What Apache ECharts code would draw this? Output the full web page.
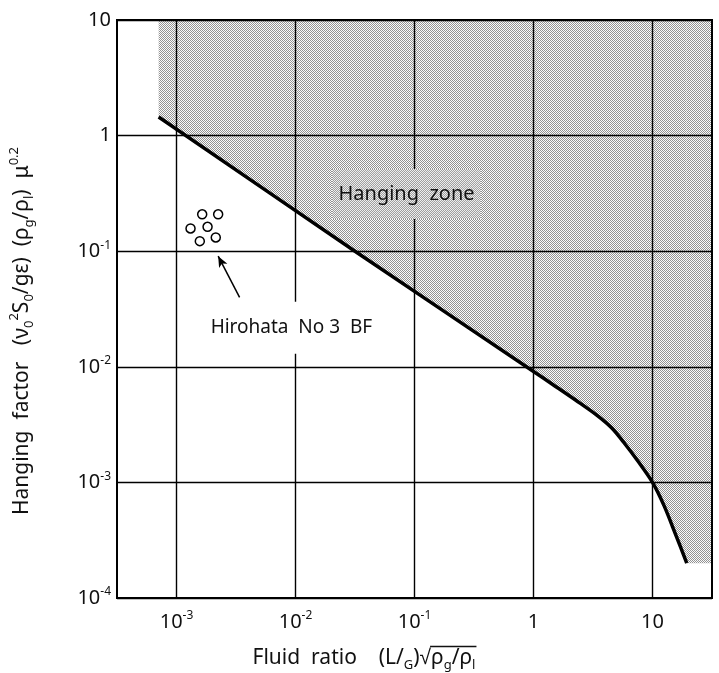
<!DOCTYPE html>
<html>
<head>
<meta charset="utf-8">
<script src="https://cdn.jsdelivr.net/npm/echarts@6/dist/echarts.min.js"></script>
<style>
  html, body { margin: 0; padding: 0; background: #fff; }
  #chart { width: 719px; height: 673px; }
</style>
</head>
<body>
<div id="chart"></div>
<script>
// Hanging boundary: fluid ratio (x) against hanging factor (y)
const boundaryX = [0.000708, 0.0316, 1, 1.46, 2.27, 3.42, 4.55, 5.85, 7.53, 10, 12.5, 15.5, 19.4];
const boundaryY = [1.45, 0.1, 0.00912, 0.0070, 0.00513, 0.0038, 0.00295, 0.00216, 0.00153, 0.001, 0.00063, 0.000363, 0.0002];

// Operating points of Hirohata No 3 BF
const plantX = [0.001644, 0.002239, 0.001312, 0.001824, 0.001570, 0.002138];
const plantY = [0.2084, 0.2084, 0.1574, 0.1626, 0.1222, 0.1315];

// Axis extents and decade ticks, as powers of ten
const xExtentExp = [-3.5, 1.5];
const yExtentExp = [-4, 1];
const xTickExp = [-3, -2, -1, 0, 1];
const yTickExp = [-4, -3, -2, -1, 0, 1];

// Annotations: arrow (tail -> head) and label anchors
const arrowTail = [0.00339, 0.0398];
const arrowHead = [0.00224, 0.0906];
const zoneText = 'Hanging  zone';
const zoneAt = [0.0857, 0.313];
const plantText = 'Hirohata  No 3  BF';
const plantAt = [0.00924, 0.0218];

const lg = Math.log10;
const FONT = '"Noto Sans", "Liberation Sans", sans-serif';
const TITLE_SIZE = 21;
const SMOOTH = 0.3;

// halftone checker used for the hanging zone
function checker(w, h) {
  const c = document.createElement('canvas');
  c.width = w; c.height = h;
  const g = c.getContext('2d');
  g.fillStyle = '#fbfbfb';
  g.fillRect(0, 0, w, h);
  g.fillStyle = '#929292';
  for (let y = 0; y < h; y++) {
    for (let x = y % 2; x < w; x += 2) g.fillRect(x, y, 1, 1);
  }
  return c;
}

const mctx = document.createElement('canvas').getContext('2d');
const textW = (s, size) => { mctx.font = size + 'px ' + FONT; return mctx.measureText(s).width; };

const zoneW = Math.ceil(textW(zoneText, 20));
const zonePad = [24, 6, 6, 6];
const zoneBg = checker(zoneW + zonePad[1] + zonePad[3], 20 + zonePad[0] + zonePad[2]);

// x-axis title pieces: [text, is subscript]
const xTitleParts = [['Fluid  ratio    (L/', 0], ['G', 1], [')√', 0], ['ρ', 0], ['g', 1], ['/ρ', 0], ['l', 1]];
const subSize = 13;
const partW = p => textW(p[0], p[1] ? subSize : TITLE_SIZE);
const xTitleCx = 364, xTitleCy = 658;
const xTitleW = xTitleParts.reduce((s, p) => s + partW(p), 0);
const barStart = xTitleCx - xTitleW / 2 + xTitleParts.slice(0, 3).reduce((s, p) => s + partW(p), 0) - 1;
const barEnd = xTitleCx + xTitleW / 2 + 1;

const boundary = boundaryX.map((x, i) => [lg(x), lg(boundaryY[i])]);
const lastPt = boundary[boundary.length - 1];
const tailStrip = [lastPt, [xExtentExp[1], lastPt[1]]];
const plant = plantX.map((x, i) => [lg(x), lg(plantY[i])]);

const powLabel = v => {
  if (v === 0) return '1';
  if (v === 1) return '10';
  return '10{s|' + v + '}';
};
const supRich = { s: { fontSize: 12, lineHeight: 12, verticalAlign: 'top', fontFamily: FONT, color: '#111' } };
const titleRich = {
  b: { fontSize: subSize, lineHeight: 13, verticalAlign: 'bottom', fontFamily: FONT, fill: '#111' },
  p: { fontSize: subSize, lineHeight: 13, verticalAlign: 'top', fontFamily: FONT, fill: '#111' }
};

const chart = echarts.init(document.getElementById('chart'));
const hatch = { image: checker(4, 4), repeat: 'repeat' };

chart.setOption({
  animation: false,
  backgroundColor: '#fff',
  grid: {
    left: 117, right: 7, top: 20, bottom: 75,
    show: true, borderColor: '#000', borderWidth: 2, backgroundColor: 'transparent'
  },
  xAxis: {
    type: 'value', min: xExtentExp[0], max: xExtentExp[1],
    axisLine: { show: true, onZero: false, lineStyle: { color: '#000', width: 2 } },
    axisTick: { show: false, customValues: xTickExp },
    axisLabel: {
      customValues: xTickExp, formatter: powLabel, margin: 12,
      fontSize: 20, lineHeight: 24, fontFamily: FONT, color: '#111', rich: supRich
    },
    splitLine: { show: true, lineStyle: { color: '#000', width: 1.4 } }
  },
  yAxis: {
    type: 'value', min: yExtentExp[0], max: yExtentExp[1],
    axisLine: { show: true, onZero: false, lineStyle: { color: '#000', width: 2 } },
    axisTick: { show: false, customValues: yTickExp },
    axisLabel: {
      customValues: yTickExp, formatter: powLabel, margin: 6,
      fontSize: 20, lineHeight: 24, fontFamily: FONT, color: '#111', rich: supRich
    },
    splitLine: { show: true, lineStyle: { color: '#000', width: 1.4 } }
  },
  graphic: [
    {
      type: 'text', x: 22, y: 331, rotation: Math.PI / 2, z: 10,
      style: {
        text: 'Hanging  factor   (ν{b|0}{p|2}S{b|0}/gε)  (ρ{b|g}/ρ{b|l})  μ{p|0.2}',
        fontSize: TITLE_SIZE, fontFamily: FONT, fill: '#111', lineHeight: 28,
        align: 'center', verticalAlign: 'middle', rich: titleRich
      }
    },
    {
      type: 'text', x: xTitleCx, y: xTitleCy, z: 10,
      style: {
        text: xTitleParts.map(p => p[1] ? '{b|' + p[0] + '}' : p[0]).join(''),
        fontSize: TITLE_SIZE, fontFamily: FONT, fill: '#111', lineHeight: 28,
        align: 'center', verticalAlign: 'middle', rich: titleRich
      }
    },
    {
      // vinculum of the square root
      type: 'line', z: 10,
      shape: { x1: barStart, y1: xTitleCy - 11.5, x2: barEnd, y2: xTitleCy - 11.5 },
      style: { stroke: '#111', lineWidth: 1.3 }
    }
  ],
  series: [
    {
      // shaded hanging zone above the boundary
      type: 'line', data: boundary, z: -1, silent: true,
      smooth: SMOOTH, showSymbol: false, lineStyle: { width: 0 },
      areaStyle: { origin: 'end', color: hatch, opacity: 1 }
    },
    {
      type: 'line', data: tailStrip, z: -1, silent: true,
      showSymbol: false, lineStyle: { width: 0 },
      areaStyle: { origin: 'end', color: hatch, opacity: 1 }
    },
    {
      // boundary curve
      type: 'line', data: boundary, z: 3, silent: true,
      smooth: SMOOTH, showSymbol: false,
      lineStyle: { color: '#000', width: 3.5, join: 'round' }
    },
    {
      // operating points with pointer arrow
      type: 'scatter', data: plant, z: 4, symbol: 'circle', symbolSize: 9,
      itemStyle: { color: '#fff', borderColor: '#000', borderWidth: 1.5, opacity: 1 },
      markLine: {
        silent: true, symbol: ['none', 'arrow'], symbolSize: [7, 11],
        lineStyle: { color: '#000', width: 1.5, type: 'solid' },
        label: { show: false },
        data: [[{ coord: [lg(arrowTail[0]), lg(arrowTail[1])] }, { coord: [lg(arrowHead[0]), lg(arrowHead[1])] }]]
      }
    },
    {
      type: 'scatter', z: 5, symbolSize: 0, silent: true,
      itemStyle: { opacity: 1 },
      data: [[lg(zoneAt[0]), lg(zoneAt[1])]],
      label: {
        show: true, position: 'inside', formatter: zoneText,
        fontSize: 20, lineHeight: 20, fontFamily: FONT, color: '#111',
        width: zoneW, height: 20, padding: zonePad, backgroundColor: { image: zoneBg }
      }
    },
    {
      type: 'scatter', z: 5, symbolSize: 0, silent: true,
      itemStyle: { opacity: 1 },
      data: [[lg(plantAt[0]), lg(plantAt[1])]],
      label: {
        show: true, position: 'inside', formatter: plantText,
        fontSize: 19, lineHeight: 20, fontFamily: FONT, color: '#111',
        padding: [8, 2, 24, 2], backgroundColor: '#fff'
      }
    }
  ]
});
</script>
</body>
</html>
